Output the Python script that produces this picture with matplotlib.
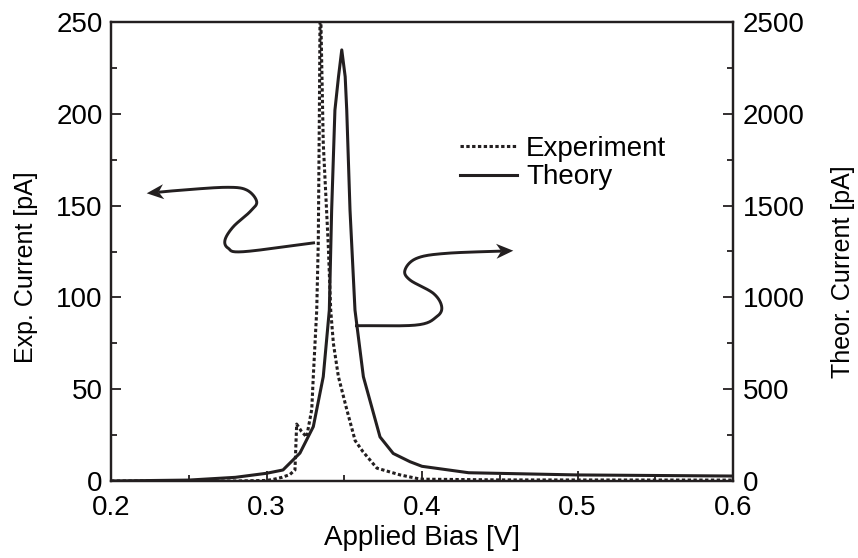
import matplotlib
matplotlib.use("Agg")
import matplotlib.pyplot as plt
import matplotlib.transforms as mtransforms
from matplotlib.patches import Polygon
from matplotlib.lines import Line2D
import numpy as np

# dados
v_exp = [0.200, 0.280, 0.300, 0.305, 0.310, 0.315, 0.3183, 0.3194, 0.3225,
         0.3258, 0.3291, 0.3301, 0.3323, 0.3333, 0.3340, 0.3344, 0.3350,
         0.3365, 0.3397, 0.3413, 0.3430, 0.3462, 0.3516, 0.3570, 0.3620,
         0.3710, 0.3860, 0.3990, 0.4500, 0.6000]
i_exp = [0, 0, 0.3, 1, 2, 3.5, 6, 31, 27,
         24, 39, 57, 93, 130, 200, 250, 250,
         184, 129, 93, 75, 57, 39, 22, 16,
         7, 3.3, 1, 0.6, 0.5]

v_th = [0.200, 0.250, 0.280, 0.300, 0.3106, 0.3215, 0.3301, 0.3365, 0.3404,
        0.3419, 0.3440, 0.3463, 0.3484, 0.3506, 0.3516, 0.3537, 0.3569,
        0.3623, 0.3730, 0.3815, 0.3923, 0.4000, 0.4300, 0.5000, 0.6000]
i_th = [0, 5, 20, 42, 60, 152, 296, 568, 931,
        1476, 2020, 2202, 2348, 2202, 2020, 1476, 931,
        568, 240, 150, 105, 80, 45, 33, 27]

# setas decorativas (pixels da figura, y medido do topo)
arrow_left = [(315, 242.7), (243.3, 251.7), (228.3, 248.3), (225, 240),
              (233.3, 226.7), (250, 211.7), (256.7, 201.7), (246.7, 190),
              (226.7, 187.3), (183.3, 190), (146.7, 193.3)]
arrow_right = [(355, 325.7), (416.7, 325), (436.7, 316.7), (441.7, 306.7),
               (433.3, 293.3), (410, 280), (405, 270), (416.7, 258.3),
               (446.7, 253.3), (513.3, 250.7)]

W, H = 858, 558
plt.rcParams["font.family"] = ["Liberation Sans", "DejaVu Sans"]

fig = plt.figure(figsize=(W / 100, H / 100), dpi=100)
ax = fig.add_axes([111 / W, 1 - 481 / H, 622 / W, 459 / H])
ax2 = ax.twinx()

# curvas
l1, = ax.plot(v_exp, i_exp, color="#231f20", lw=2.2, linestyle=(0, (1.1, 0.8)),
              label="Experiment")
l2, = ax2.plot(v_th, i_th, color="#231f20", lw=2.2, label="Theory")

ax.set_xlim(0.2, 0.6)
ax.set_ylim(0, 250)
ax2.set_ylim(0, 2500)

ax.set_xticks([0.2, 0.3, 0.4, 0.5, 0.6])
ax.set_xticks(np.arange(0.2, 0.61, 0.05), minor=True)
ax.set_yticks(np.arange(0, 251, 50))
ax.set_yticks(np.arange(0, 251, 25), minor=True)
ax2.set_yticks(np.arange(0, 2501, 500))
ax2.set_yticks(np.arange(0, 2501, 250), minor=True)
ax.set_xticklabels(["0.2", "0.3", "0.4", "0.5", "0.6"])

for a in (ax, ax2):
    for s in a.spines.values():
        s.set_linewidth(1.6)
        s.set_color("#231f20")
ax.tick_params(which="both", direction="in", top=False, right=False,
               labelsize=20, color="#231f20", width=1.3, pad=6)
ax.tick_params(axis="x", which="both", pad=10)
ax.tick_params(which="major", length=7)
ax.tick_params(which="minor", length=4)
ax2.tick_params(which="both", direction="in", labelsize=20, color="#231f20",
                width=1.3, pad=7)
ax2.tick_params(which="major", length=7)
ax2.tick_params(which="minor", length=4)

ax.set_xlabel("Applied Bias [V]", fontsize=20)
ax.set_ylabel("Exp. Current [pA]", fontsize=18)
ax2.set_ylabel("Theor. Current [pA]", fontsize=18)
ax.xaxis.set_label_coords(0.5, -0.095)
ax.yaxis.set_label_coords(-0.118, 0.465)
ax2.yaxis.set_label_coords(1.158, 0.455)

# legenda
ax2.legend(handles=[l1, l2], loc="upper left", frameon=False, fontsize=20,
           bbox_to_anchor=(460 / W, 1 - 136 / H), bbox_transform=fig.transFigure,
           borderpad=0, borderaxespad=0, handlelength=2.05, handletextpad=0.33,
           labelspacing=0.08)

# setas curvas
pix = mtransforms.Affine2D().scale(1 / W, -1 / H).translate(0, 1) + fig.transFigure


def suaviza(pts, n=24):
    p = np.array(pts, float)
    p = np.vstack([2 * p[0] - p[1], p, 2 * p[-1] - p[-2]])
    out = []
    t = np.linspace(0, 1, n, endpoint=False)[:, None]
    for i in range(1, len(p) - 2):
        p0, p1, p2, p3 = p[i - 1], p[i], p[i + 1], p[i + 2]
        out.append(0.5 * (2 * p1 + (-p0 + p2) * t
                          + (2 * p0 - 5 * p1 + 4 * p2 - p3) * t ** 2
                          + (-p0 + 3 * p1 - 3 * p2 + p3) * t ** 3))
    out.append(p[-2][None])
    return np.vstack(out)


def seta(pts, L=17, hw=7.5, notch=5):
    c = suaviza(pts)
    tip = c[-1]
    d = tip - c[-6]
    d = d / np.hypot(*d)
    nrm = np.array([-d[1], d[0]])
    dist = np.hypot(*(c - tip).T)
    c = c[dist > L - notch]
    c = np.vstack([c, tip - d * (L - notch)])
    fig.add_artist(Line2D(c[:, 0], c[:, 1], color="#231f20", lw=2.1,
                          transform=pix, solid_capstyle="butt"))
    head = [tip, tip - d * L + nrm * hw, tip - d * (L - notch), tip - d * L - nrm * hw]
    fig.add_artist(Polygon(head, closed=True, color="#231f20", transform=pix, lw=0))


seta(arrow_left)
seta(arrow_right)

fig.savefig("out.png", dpi=100)
